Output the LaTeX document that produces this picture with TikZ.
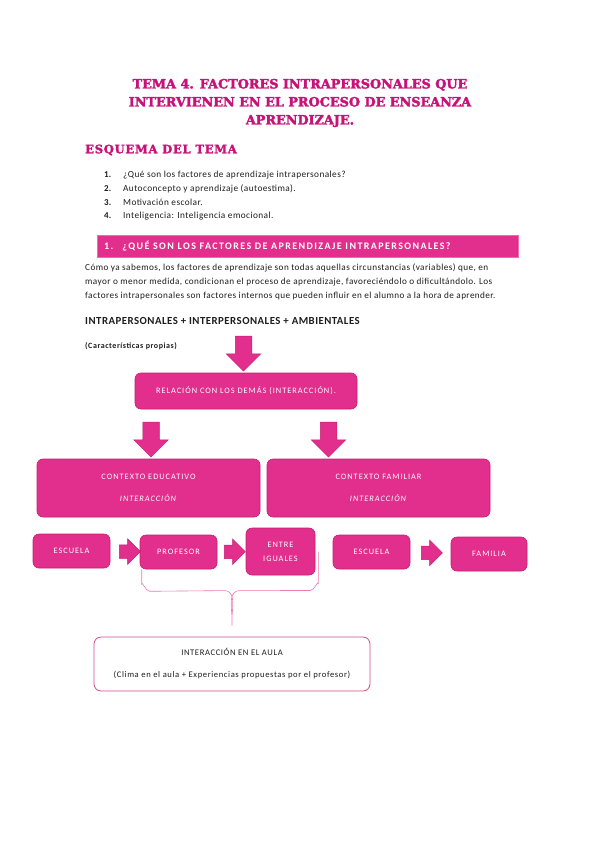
\documentclass[tikz,border=0pt]{standalone}
\usepackage{fontspec}
\setmainfont{Carlito}
\newfontfamily\titulofont[FakeBold=2.5]{DejaVu Serif Bold}
\newfontfamily\esquemafont[FakeBold=2,LetterSpace=6]{DejaVu Serif Bold}
\newfontfamily\cuerpofont[LetterSpace=4.5]{Carlito}
\newfontfamily\espaciada[LetterSpace=12]{Carlito}
\newfontfamily\aulafont[LetterSpace=7]{Carlito}
\newfontfamily\muyespaciada[LetterSpace=14]{Carlito}
\usetikzlibrary{shapes.arrows,calc}
\definecolor{rosa}{RGB}{226,46,140}
\definecolor{rosaborde}{RGB}{196,32,112}
\definecolor{rosatitulo}{RGB}{200,18,120}
\definecolor{rosaclaro}{RGB}{238,120,178}
\definecolor{texto}{RGB}{30,30,30}

\tikzset{
  caja/.style={draw=rosaborde, fill=rosa, rounded corners=6pt, line width=0.6pt,
    text=white, font=\espaciada\fontsize{8.3}{10}\selectfont, align=center, inner sep=2pt},
  flechabloque/.style={single arrow, fill=rosa, draw=rosaborde, line width=0.5pt,
    single arrow tip angle=90},
  bajada/.style={flechabloque, shape border rotate=270, minimum height=35pt,
    inner sep=8pt, single arrow head extend=9pt},
  paso/.style={flechabloque, minimum height=21pt, inner sep=6.5pt,
    single arrow head extend=6pt},
  linea/.style={anchor=west, text=texto, inner sep=0pt}
}

\begin{document}
\begin{tikzpicture}[x=1pt,y=-1pt]
    % Fondo de la hoja
    \useasboundingbox (0,0) rectangle (599,848);
    \fill[white] (0,0) rectangle (599,848);

    % Titulo del tema
    \node[text=rosatitulo, align=center, font=\titulofont\fontsize{12.8}{18}\selectfont]
      (titulo) at (300,103) {TEMA 4. FACTORES INTRAPERSONALES QUE\\
      INTERVIENEN EN EL PROCESO DE ENSEANZA\\APRENDIZAJE.};
    \node[linea, text=rosatitulo, font=\esquemafont\fontsize{11.6}{12}\selectfont]
      (esquema) at (85,150) {ESQUEMA DEL TEMA};

    % Lista de apartados
    \foreach \n/\t [count=\i] in {1/{¿Qué son los factores de aprendizaje intrapersonales?},
        2/{Autoconcepto y aprendizaje (autoestima).},
        3/{Motivación escolar.},
        4/{Inteligencia: Inteligencia emocional.}} {
      \node[linea, font=\bfseries\fontsize{9}{10}\selectfont] (num\i) at (104,{161+13.7*\i}) {\n.};
      \node[linea, font=\cuerpofont\fontsize{9.3}{10}\selectfont] (item\i) at (123,{161+13.7*\i}) {\t};
    }

    % Barra del apartado 1
    \node[fill=rosa, draw=rosa!70!white, minimum width=421pt, minimum height=22pt,
      anchor=north west, inner sep=0pt] (barra) at (97,235) {};
    \node[anchor=west, text=white, font=\muyespaciada\bfseries\fontsize{10}{11}\selectfont,
      inner sep=0pt] (barratexto) at (104,246) {1.\hspace{9pt}¿QUÉ SON LOS FACTORES DE APRENDIZAJE INTRAPERSONALES?};

    % Parrafo
    \node[linea, font=\cuerpofont\fontsize{9.2}{10}\selectfont] (p1) at (85,268) {Cómo ya sabemos, los factores de aprendizaje son todas aquellas circunstancias (variables) que, en};
    \node[linea, font=\cuerpofont\fontsize{9.2}{10}\selectfont] (p2) at (85,282) {mayor o menor medida, condicionan el proceso de aprendizaje, favoreciéndolo o dificultándolo. Los};
    \node[linea, font=\cuerpofont\fontsize{9.2}{10}\selectfont] (p3) at (85,296) {factores intrapersonales son factores internos que pueden influir en el alumno a la hora de aprender.};

    \node[linea, font=\cuerpofont\bfseries\fontsize{10.8}{12}\selectfont] (factores) at (85,321) {INTRAPERSONALES + INTERPERSONALES + AMBIENTALES};
    \node[linea, font=\aulafont\bfseries\fontsize{8}{9}\selectfont] (propias) at (85,346) {(Características propias)};

    % Cajas del esquema
    \node[caja, minimum width=222pt, minimum height=36pt] (relacion) at (246,391)
      {RELACIÓN CON LOS DEMÁS (INTERACCIÓN).};
    \node[caja, minimum width=223pt, minimum height=58pt] (educativo) at (148.5,488)
      {CONTEXTO EDUCATIVO\\[12pt]\textit{INTERACCIÓN}};
    \node[caja, minimum width=223pt, minimum height=58pt] (familiar) at (378.5,488)
      {CONTEXTO FAMILIAR\\[12pt]\textit{INTERACCIÓN}};
    \node[caja, minimum width=77pt, minimum height=34pt] (escuela) at (71.5,551) {ESCUELA};
    \node[caja, minimum width=77pt, minimum height=34pt] (profesor) at (178.5,552) {PROFESOR};
    \node[caja, minimum width=69pt, minimum height=47pt] (iguales) at (280.5,551.5) {ENTRE\\[4pt]IGUALES};
    \node[caja, minimum width=77pt, minimum height=34pt] (escuela2) at (371.5,552) {ESCUELA};
    \node[caja, minimum width=76pt, minimum height=34pt] (familia) at (489,554) {FAMILIA};
    \node[draw=rosaborde!80!white, fill=white, rounded corners=7pt, line width=0.8pt,
      minimum width=276pt, minimum height=54pt, align=center, text=texto,
      font=\aulafont\fontsize{8.6}{10}\selectfont] (aula) at (232,664)
      {INTERACCIÓN EN EL AULA\\[12pt](Clima en el aula + Experiencias propuestas por el profesor)};

    % Flechas de bloque
    \node[bajada] (f0) at (243.5,349.5) {};
    \node[bajada] (f1) at (151,435.5) {};
    \node[bajada] (f2) at (328.5,435.5) {};
    \node[paso] (f3) at ($(escuela.east)!0.55!(profesor.west)$) {};
    \node[paso] (f4) at ($(profesor.east)!0.5!(iguales.west)$) {};
    \node[paso] (f5) at ($(escuela2.east)!0.45!(familia.west)$) {};

    % Llave hacia la interaccion en el aula
    \coordinate (llaveizq) at ($(profesor.south west)+(2,0)$);
    \coordinate (llaveder) at ($(iguales.east)+(3,0)$);
    \coordinate (llavepunta) at ($(aula.north)+(0,-11)$);
    \draw[rosaclaro, line width=0.6pt] (llaveizq) -- ++(0,15) to[out=90,in=180] ++(8,7)
      -- ($(llavepunta)+(-8,-35)$) to[out=0,in=95] (llavepunta)
      to[out=85,in=180] ($(llavepunta)+(8,-35)$)
      -- ($(llaveder)+(-8,39)$) to[out=0,in=90] ($(llaveder)+(0,32)$) -- (llaveder);
\end{tikzpicture}
\end{document}
